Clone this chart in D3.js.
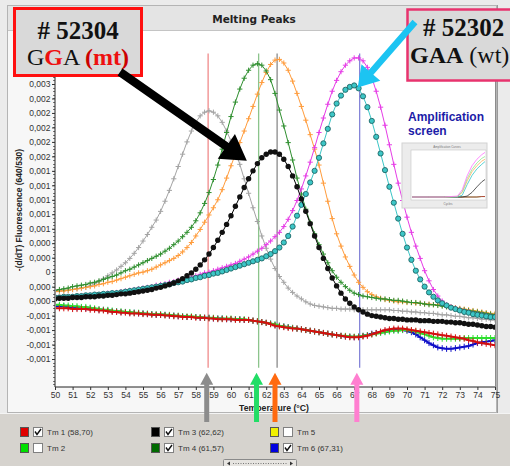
<!DOCTYPE html>
<html><head><meta charset="utf-8">
<script src="https://cdn.jsdelivr.net/npm/d3@7"></script>
<style>
html,body{margin:0;padding:0;background:#ebebeb;}
svg{display:block;}
</style></head><body>
<svg id="chart" width="510" height="466"></svg>
<script>
// ---------- DATA (values in units of 1e-4) ----------
const unit = 1e-4;
const temps = [50,50.25,50.5,50.75,51,51.25,51.5,51.75,52,52.25,52.5,52.75,53,53.25,53.5,53.75,54,54.25,54.5,54.75,55,55.25,55.5,55.75,56,56.25,56.5,56.75,57,57.25,57.5,57.75,58,58.25,58.5,58.75,59,59.25,59.5,59.75,60,60.25,60.5,60.75,61,61.25,61.5,61.75,62,62.25,62.5,62.75,63,63.25,63.5,63.75,64,64.25,64.5,64.75,65,65.25,65.5,65.75,66,66.25,66.5,66.75,67,67.25,67.5,67.75,68,68.25,68.5,68.75,69,69.25,69.5,69.75,70,70.25,70.5,70.75,71,71.25,71.5,71.75,72,72.25,72.5,72.75,73,73.25,73.5,73.75,74,74.25,74.5,74.75,75];

const grayCurve = [
-2.6,-2.6,-2.5,-2.5, -2.4,-2.3,-2.2,-2.1, -1.9,-1.6,-1.3,-0.9, -0.5,-0.1,0.3,0.8,
1.3,1.9,2.6,3.4, 4.3,5.2,6.2,7.2, 8.4,9.8,11.3,12.9, 14.6,16.3,18.0,19.5,
20.7,21.6,22.1,22.3, 22.1,21.6,20.7,19.5, 18.1,16.6,14.9,12.9, 10.9,8.9,7.0,5.0,
3.3,1.8,0.5,-0.6, -1.4,-2.2,-2.8,-3.3, -3.7,-4.1,-4.4,-4.6, -4.7,-4.8,-4.9,-5.0,
-5.0,-5.1,-5.1,-5.1, -5.2,-5.2,-5.2,-5.2, -5.2,-5.2,-5.2,-5.2, -5.2,-5.3,-5.3,-5.4,
-5.4,-5.5,-5.5,-5.6, -5.6,-5.7,-5.7,-5.8, -5.9,-5.9,-6.0,-6.1, -6.1,-6.2,-6.3,-6.3,
-6.4,-6.5,-6.5,-6.6, -6.6];

const greenCurve = [
-2.5,-2.4,-2.3,-2.2, -2.0,-1.9,-1.8,-1.7, -1.5,-1.4,-1.2,-1.0, -0.8,-0.6,-0.4,-0.1,
0.2,0.4,0.7,1.0, 1.3,1.6,1.9,2.2, 2.5,2.9,3.3,3.8, 4.3,4.9,5.5,6.2,
7.1,8.2,9.5,11.0, 12.8,14.8,17.0,19.3, 21.5,23.5,25.3,26.8, 27.9,28.6,28.8,28.6,
27.8,26.6,24.7,22.4, 20.2,17.9,15.5,13.0, 10.8,8.7,6.9,5.3, 3.8,2.5,1.3,0.2,
-0.7,-1.4,-2.0,-2.5, -2.9,-3.1,-3.3,-3.4, -3.5,-3.6,-3.7,-3.7, -3.8,-3.9,-3.9,-4.0,
-4.1,-4.2,-4.2,-4.3, -4.4,-4.5,-4.5,-4.6, -4.7,-4.8,-4.9,-5.0, -5.1,-5.2,-5.3,-5.4,
-5.5,-5.6,-5.7,-5.8, -5.9];

const orangeCurve = [
-2.7,-2.6,-2.6,-2.5, -2.4,-2.3,-2.2,-2.1, -2.0,-1.9,-1.7,-1.6, -1.4,-1.3,-1.1,-0.9,
-0.7,-0.5,-0.3,-0.1, 0.0,0.2,0.4,0.7, 1.0,1.3,1.6,1.9, 2.3,2.8,3.4,4.1,
5.0,5.9,6.9,7.9, 8.9,10.0,11.4,13.0, 14.7,16.3,17.9,19.5, 21.2,22.9,24.6,26.2,
27.6,28.7,29.3,29.4, 28.9,27.9,26.4,24.7, 22.9,21.0,19.0,17.0, 14.8,12.3,9.8,7.4,
5.3,3.6,2.1,0.8, -0.4,-1.4,-2.1,-2.7, -3.1,-3.4,-3.6,-3.8, -3.9,-4.0,-4.1,-4.1,
-4.2,-4.2,-4.3,-4.3, -4.4,-4.4,-4.5,-4.5, -4.6,-4.7,-4.8,-4.9, -5.0,-5.1,-5.2,-5.3,
-5.4,-5.5,-5.6,-5.7, -5.7];

const blackCurve = [
-3.7,-3.6,-3.6,-3.6, -3.5,-3.5,-3.5,-3.4, -3.4,-3.4,-3.3,-3.3, -3.2,-3.2,-3.1,-3.0,
-3.0,-2.9,-2.8,-2.7, -2.6,-2.5,-2.4,-2.2, -2.1,-1.9,-1.7,-1.5, -1.2,-0.9,-0.5,-0.1,
0.4,1.0,1.7,2.5, 3.4,4.4,5.5,6.6, 7.8,9.1,10.4,11.7, 12.9,14.0,15.0,15.8,
16.3,16.6,16.6,16.3, 15.6,14.6,13.3,11.8, 10.1,8.4,6.7,5.0, 3.4,1.9,0.5,-0.8,
-1.9,-2.9,-3.7,-4.3, -4.8,-5.2,-5.5,-5.8, -6.0,-6.1,-6.2,-6.3, -6.4,-6.4,-6.5,-6.5,
-6.6,-6.6,-6.6,-6.7, -6.7,-6.7,-6.8,-6.8, -6.8,-6.9,-6.9,-7.0, -7.0,-7.1,-7.2,-7.2,
-7.3,-7.4,-7.5,-7.5, -7.6];

const magentaCurve = [
-3.6,-3.6,-3.5,-3.5, -3.4,-3.4,-3.3,-3.3, -3.2,-3.1,-3.1,-3.0, -2.9,-2.9,-2.8,-2.7,
-2.6,-2.5,-2.4,-2.3, -2.2,-2.1,-2.0,-1.8, -1.7,-1.6,-1.4,-1.3, -1.1,-1.0,-0.8,-0.7,
-0.5,-0.3,-0.1,0.0, 0.2,0.4,0.6,0.8, 1.0,1.2,1.5,1.8, 2.1,2.5,2.9,3.3,
3.8,4.3,4.9,5.5, 6.3,7.3,8.5,9.9, 11.5,13.3,15.2,17.2, 19.3,21.3,23.2,25.0,
26.5,27.7,28.6,29.2, 29.6,29.6,29.2,28.3, 26.9,25.0,22.8,20.3, 17.6,14.9,12.3,9.9,
7.6,5.5,3.6,1.9, 0.2,-1.2,-2.4,-3.3, -4.0,-4.5,-4.8,-5.0, -5.2,-5.4,-5.5,-5.7,
-5.8,-5.9,-6.0,-6.1, -6.2];

const cyanCurve = [
-3.5,-3.5,-3.4,-3.4, -3.4,-3.3,-3.3,-3.2, -3.2,-3.1,-3.1,-3.0, -3.0,-2.9,-2.9,-2.8,
-2.7,-2.6,-2.5,-2.4, -2.3,-2.2,-2.1,-2.0, -1.9,-1.8,-1.7,-1.5, -1.4,-1.3,-1.1,-1.0,
-0.8,-0.7,-0.5,-0.4, -0.2,-0.1,0.1,0.3, 0.5,0.7,0.9,1.1, 1.3,1.5,1.7,1.9,
2.2,2.5,2.9,3.4, 4.1,5.0,6.3,7.8, 9.3,10.8,12.4,14.0, 15.8,17.8,19.8,21.8,
23.3,24.4,25.2,25.6, 25.8,25.4,24.3,22.8, 20.9,18.7,16.4,14.1, 11.8,9.6,7.4,5.3,
3.4,1.7,0.2,-1.0, -2.0,-2.8,-3.4,-3.9, -4.3,-4.6,-4.9,-5.1, -5.3,-5.5,-5.6,-5.8,
-5.9,-6.0,-6.1,-6.2, -6.2];

const redCurve = [
-5.0,-5.0,-5.0,-5.0, -5.1,-5.1,-5.1,-5.1, -5.2,-5.2,-5.3,-5.3, -5.4,-5.5,-5.5,-5.6,
-5.6,-5.7,-5.7,-5.7, -5.8,-5.8,-5.9,-5.9, -5.9,-6.0,-6.0,-6.1, -6.1,-6.2,-6.2,-6.2,
-6.3,-6.3,-6.3,-6.4, -6.4,-6.5,-6.5,-6.5, -6.5,-6.6,-6.6,-6.6, -6.6,-6.7,-6.8,-6.9,
-7.0,-7.2,-7.4,-7.5, -7.6,-7.7,-7.8,-7.8, -7.9,-8.0,-8.1,-8.2, -8.3,-8.4,-8.5,-8.6,
-8.7,-8.8,-8.9,-9.0, -9.0,-9.0,-8.9,-8.8, -8.6,-8.4,-8.2,-8.0, -7.9,-7.8,-7.8,-7.8,
-7.9,-8.0,-8.1,-8.2, -8.3,-8.4,-8.5,-8.6, -8.7,-8.8,-8.9,-9.0, -9.1,-9.2,-9.4,-9.5,
-9.7,-9.8,-9.9,-10.0, -10.1];

const limeCurve = [
-4.5,-4.5,-4.6,-4.6, -4.7,-4.7,-4.8,-4.8, -4.9,-5.0,-5.1,-5.2, -5.2,-5.3,-5.4,-5.4,
-5.5,-5.5,-5.6,-5.6, -5.7,-5.7,-5.8,-5.8, -5.8,-5.9,-5.9,-6.0, -6.0,-6.1,-6.1,-6.1,
-6.2,-6.2,-6.3,-6.3, -6.3,-6.4,-6.4,-6.4, -6.4,-6.5,-6.5,-6.5, -6.6,-6.7,-6.8,-6.9,
-7.0,-7.1,-7.2,-7.4, -7.5,-7.6,-7.7,-7.8, -7.9,-8.0,-8.1,-8.2, -8.3,-8.4,-8.5,-8.6,
-8.7,-8.8,-8.8,-8.9, -8.9,-8.9,-8.8,-8.7, -8.6,-8.5,-8.4,-8.3, -8.2,-8.1,-8.1,-8.0,
-8.0,-8.1,-8.2,-8.4, -8.6,-8.8,-9.0,-9.1, -9.2,-9.2,-9.2,-9.2, -9.2,-9.1,-9.1,-9.1,
-9.1,-9.1,-9.1,-9.1, -9.1];

const blueCurve = [
-4.7,-4.7,-4.7,-4.8, -4.8,-4.9,-4.9,-5.0, -5.0,-5.1,-5.2,-5.2, -5.3,-5.4,-5.4,-5.5,
-5.5,-5.6,-5.6,-5.7, -5.7,-5.8,-5.8,-5.9, -5.9,-5.9,-6.0,-6.0, -6.1,-6.1,-6.2,-6.2,
-6.2,-6.3,-6.3,-6.3, -6.4,-6.4,-6.4,-6.5, -6.5,-6.5,-6.5,-6.6, -6.6,-6.7,-6.8,-6.9,
-7.0,-7.1,-7.3,-7.4, -7.5,-7.6,-7.7,-7.8, -7.9,-8.0,-8.1,-8.2, -8.3,-8.4,-8.5,-8.6,
-8.7,-8.8,-8.9,-8.9, -9.0,-8.9,-8.8,-8.7, -8.5,-8.4,-8.3,-8.2, -8.1,-8.0,-8.0,-8.0,
-8.1,-8.3,-8.6,-9.0, -9.4,-9.8,-10.1,-10.4, -10.5,-10.6,-10.6,-10.5, -10.4,-10.3,-10.2,-10.0,
-9.8,-9.7,-9.6,-9.5, -9.4];

// Tm markers (vertical lines)
const tmValues = [58.70, 61.57, 62.62, 67.31];
const tmColors = ["#f08a8a", "#8cc48c", "#8a8a8a", "#8585d8"];

// Axis ticks
const xTicks = [50,51,52,53,54,55,56,57,58,59,60,61,62,63,64,65,66,67,68,69,70,71,72,73,74,75];
const xTickLabels = ["50","51","52","53","54","55","56","57","58","59","60","61","62","63","64","65","66","67","68","69","70","71","72","73","74","75"];
const yTicks = [-0.0012,-0.001,-0.0008,-0.0006,-0.0004,-0.0002,0,0.0002,0.0004,0.0006,0.0008,0.001,0.0012,0.0014,0.0016,0.0018,0.002,0.0022,0.0024,0.0026];
const yTickLabels = ["-0,001","-0,001","-0,001","-0,001","0,000","0,000","0","0,000","0,000","0,001","0,001","0,001","0,001","0,001","0,002","0,002","0,002","0,002","0,002","0,003"];

// Legend
const legendLabels = ["Tm 1 (58,70)","Tm 2","Tm 3 (62,62)","Tm 4 (61,57)","Tm 5","Tm 6 (67,31)"];
const legendColors = ["#e00000","#00e000","#000000","#006a00","#f0f000","#0000e0"];
const legendChecked = [true,false,true,true,false,true];

// Arrows (tips in data space)
const blackArrowTip = [60.9, 15.4];
const cyanArrowTip = [67.2, 25.5];
const bottomArrowTemps = [58.62, 61.45, 62.5, 67.15];
const bottomArrowColors = ["#8c8c8c", "#22dd66", "#ff6a10", "#ff7fd0"];

// Inset amplification thumbnail
const ampCycles = [0,10,20,28,31,34,37,40,43,45];
const ampMagenta = [0,0,0,0.02,0.16,0.46,0.68,0.82,0.92,0.97];
const ampGreen = [0,0,0,0.01,0.12,0.40,0.60,0.74,0.84,0.88];
const ampOrange = [0,0,0,0.01,0.10,0.35,0.55,0.68,0.78,0.82];
const ampCyan = [0,0,0,0,0.04,0.27,0.47,0.61,0.71,0.77];
const ampBlack = [0,0,0,0,0,0.02,0.10,0.22,0.33,0.38];
const ampFlat = [0,0,0,0,0,0,0,0,0.01,0.01];

// ---------- DRAW ----------
const svg = d3.select("#chart");
const W = 510, H = 466;
const P = {left:55, right:495, top:31, bottom:387};

svg.append("rect").attr("width",W).attr("height",H).attr("fill","#ebebeb");
svg.append("rect").attr("x",7.5).attr("y",5.5).attr("width",489).attr("height",407)
  .attr("fill","#f7f7f7").attr("stroke","#b4b4b4");
svg.append("rect").attr("x",8).attr("y",6).attr("width",488).attr("height",25).attr("fill","#e4e4e4");
svg.append("line").attr("x1",8).attr("x2",496).attr("y1",30.5).attr("y2",30.5).attr("stroke","#c4c4c4");
svg.append("text").attr("x",254).attr("y",23).attr("text-anchor","middle")
  .attr("font-family","DejaVu Sans").attr("font-weight","bold").attr("font-size",10.5)
  .attr("fill","#222").text("Melting Peaks");

svg.append("rect").attr("x",P.left).attr("y",P.top).attr("width",P.right-P.left).attr("height",P.bottom-P.top).attr("fill","#ffffff");
svg.append("line").attr("x1",P.right+0.5).attr("x2",P.right+0.5).attr("y1",P.top).attr("y2",P.bottom).attr("stroke","#8c8c8c");

svg.append("rect").attr("x",0).attr("y",413).attr("width",W).attr("height",H-413).attr("fill","#d6d3ce");
svg.append("line").attr("x1",0).attr("x2",W).attr("y1",413.5).attr("y2",413.5).attr("stroke","#f4f4f4");
svg.append("line").attr("x1",497.5).attr("x2",497.5).attr("y1",5).attr("y2",413).attr("stroke","#9a9a9a");

const x = d3.scaleLinear().domain([50,75]).range([P.left,P.right]);
const y0 = d3.scaleLinear().domain([-0.0012,0.0026]).range([359,84]);
const y = d3.scaleLinear().domain([y0.invert(P.bottom), y0.invert(P.top)]).range([P.bottom,P.top]);

const yMinor = d3.range(-31,67).map(k => k*0.00005);
svg.append("g").selectAll("line").data(yMinor).join("line")
  .attr("x1",P.left-2).attr("x2",P.left).attr("y1",d=>Math.round(y(d))+0.5).attr("y2",d=>Math.round(y(d))+0.5)
  .attr("stroke","#555").attr("stroke-width",0.8);

const yAxis = svg.append("g").attr("transform",`translate(${P.left},0)`)
  .call(d3.axisLeft(y).tickValues(yTicks).tickFormat((d,i)=>yTickLabels[i]).tickSize(3).tickSizeOuter(0).tickPadding(1.5));
const xAxis = svg.append("g").attr("transform",`translate(0,${P.bottom})`)
  .call(d3.axisBottom(x).tickValues(xTicks).tickFormat((d,i)=>xTickLabels[i]).tickSize(3).tickSizeOuter(0).tickPadding(2));
[yAxis,xAxis].forEach(g=>{
  g.select(".domain").attr("stroke","#222");
  g.selectAll(".tick line").attr("stroke","#333");
  g.selectAll(".tick text").attr("font-family","Liberation Sans").attr("font-size",8.5).attr("fill","#333");
});
yAxis.select(".domain").attr("d",`M0,${P.top}V${P.bottom}`);
xAxis.select(".domain").attr("d",`M${P.left},0H${P.right}`);

svg.append("text").attr("transform","translate(22,210) rotate(-90)").attr("text-anchor","middle")
  .attr("font-family","Liberation Sans").attr("font-weight","bold").attr("font-size",8.5).attr("fill","#222")
  .text("-(d/dT) Fluorescence (640/530)");
svg.append("text").attr("x",274).attr("y",411).attr("text-anchor","middle")
  .attr("font-family","Liberation Sans").attr("font-weight","bold").attr("font-size",8.7).attr("fill","#222")
  .text("Temperature (°C)");

svg.append("clipPath").attr("id","plotclip").append("rect")
  .attr("x",P.left+1).attr("y",P.top).attr("width",P.right-P.left-1).attr("height",P.bottom-P.top-1);
const plot = svg.append("g").attr("clip-path","url(#plotclip)");

plot.selectAll("line.tm").data(tmValues).join("line").attr("class","tm")
  .attr("x1",d=>x(d)).attr("x2",d=>x(d)).attr("y1",y(0.00302)).attr("y2",y(-0.00132))
  .attr("stroke",(d,i)=>tmColors[i]).attr("stroke-width",1.3);

const series = [
  {v:blueCurve, color:"#1010c8", mark:"plus", lw:2, ms:3},
  {v:limeCurve, color:"#2ee02e", mark:"plus", lw:2, ms:3},
  {v:redCurve, color:"#d41010", mark:"plus", lw:2, ms:3},
  {v:grayCurve, color:"#a4a4a4", mark:"plus", lw:1, ms:2.6},
  {v:orangeCurve, color:"#ff9c3c", mark:"plus", lw:1, ms:2.6},
  {v:greenCurve, color:"#2f8f2f", mark:"plus", lw:1, ms:2.6},
  {v:magentaCurve, color:"#e63ce6", mark:"plus", lw:1, ms:2.6},
  {v:cyanCurve, color:"#3cc6c6", mark:"circle", lw:1, stroke:"#1f6666"},
  {v:blackCurve, color:"#000000", mark:"dot", lw:1}
];
const line = d3.line().x((d,i)=>x(temps[i])).y(d=>y(d*unit));
series.forEach(s=>{
  const g = plot.append("g");
  g.append("path").attr("d",line(s.v)).attr("fill","none").attr("stroke",s.color).attr("stroke-width",s.lw);
  if(s.mark==="plus"){
    g.selectAll("path.m").data(s.v).join("path").attr("class","m")
      .attr("d",`M${-s.ms},0H${s.ms}M0,${-s.ms}V${s.ms}`)
      .attr("transform",(d,i)=>`translate(${x(temps[i])},${y(d*unit)})`)
      .attr("stroke",s.color).attr("stroke-width",1).attr("fill","none");
  } else if(s.mark==="circle"){
    g.selectAll("circle").data(s.v).join("circle")
      .attr("cx",(d,i)=>x(temps[i])).attr("cy",d=>y(d*unit)).attr("r",2.6)
      .attr("fill",s.color).attr("stroke",s.stroke).attr("stroke-width",0.9);
  } else {
    g.selectAll("circle").data(s.v).join("circle")
      .attr("cx",(d,i)=>x(temps[i])).attr("cy",d=>y(d*unit)).attr("r",2.7)
      .attr("fill","#111");
  }
});

svg.append("text").attr("x",408).attr("y",121).attr("font-family","Liberation Sans").attr("font-weight","bold")
  .attr("font-size",12).attr("fill","#1c1ca8").text("Amplification");
svg.append("text").attr("x",408).attr("y",135).attr("font-family","Liberation Sans").attr("font-weight","bold")
  .attr("font-size",12).attr("fill","#1c1ca8").text("screen");
const ins = svg.append("g").attr("transform","translate(402,143)");
ins.append("rect").attr("width",85).attr("height",65).attr("fill","#ececec").attr("stroke","#d2d2d2");
ins.append("text").attr("x",45).attr("y",5).attr("text-anchor","middle").attr("font-family","Liberation Sans")
  .attr("font-size",3).attr("fill","#777").text("Amplification Curves");
ins.append("rect").attr("x",9).attr("y",7).attr("width",75).attr("height",50).attr("fill","#fff").attr("stroke","#bbb").attr("stroke-width",0.5);
const ax = d3.scaleLinear().domain([0,45]).range([10,83]);
const ay = d3.scaleLinear().domain([0,1]).range([54,8]);
const aline = d3.line().x((d,i)=>ax(ampCycles[i])).y(d=>ay(d));
[[ampFlat,"#2a9a2a"],[ampFlat,"#cc3333"],[ampBlack,"#333"],[ampCyan,"#33c8c8"],[ampOrange,"#ffb060"],[ampGreen,"#90e890"],[ampMagenta,"#ff70ff"]]
  .forEach(([v,c])=>ins.append("path").attr("d",aline(v)).attr("fill","none").attr("stroke",c).attr("stroke-width",0.8));
ins.append("text").attr("x",46).attr("y",62).attr("text-anchor","middle").attr("font-family","Liberation Sans")
  .attr("font-size",3).attr("fill","#777").text("Cycles");

svg.append("rect").attr("x",14.5).attr("y",8.5).attr("width",127).attr("height",67)
  .attr("fill","#d9d9d9").attr("stroke","#ff1010").attr("stroke-width",3);
svg.append("text").attr("x",78).attr("y",39).attr("text-anchor","middle").attr("font-family","Liberation Serif")
  .attr("font-weight","bold").attr("font-size",25).attr("fill","#111").text("# 52304");
const t1 = svg.append("text").attr("x",78).attr("y",65).attr("text-anchor","middle").attr("font-family","Liberation Serif")
  .attr("font-size",24).attr("fill","#111");
t1.append("tspan").text("G");
t1.append("tspan").attr("fill","#ee1010").attr("font-weight","bold").text("G");
t1.append("tspan").text("A ");
t1.append("tspan").attr("fill","#cc0000").attr("font-weight","bold").text("(");
t1.append("tspan").attr("fill","#ee1010").attr("font-weight","bold").text("mt");
t1.append("tspan").attr("fill","#cc0000").attr("font-weight","bold").text(")");

svg.append("rect").attr("x",407.5).attr("y",9.5).attr("width",115).attr("height",71)
  .attr("fill","#d9d9d9").attr("stroke","#e8336e").attr("stroke-width",2.5);
svg.append("text").attr("x",423).attr("y",36).attr("font-family","Liberation Serif")
  .attr("font-weight","bold").attr("font-size",25).attr("fill","#111").text("# 52302");
const t2 = svg.append("text").attr("x",410).attr("y",63).attr("font-family","Liberation Serif")
  .attr("font-size",24).attr("fill","#111");
t2.append("tspan").attr("font-weight","bold").text("GAA");
t2.append("tspan").text(" (wt)");

function arrowPoly(x1,y1,x2,y2,sw,hl,hw){
  const dx=x2-x1, dy=y2-y1, L=Math.hypot(dx,dy), ux=dx/L, uy=dy/L, px=-uy, py=ux;
  const bx=x2-ux*hl, by=y2-uy*hl;
  return [[x1+px*sw/2,y1+py*sw/2],[bx+px*sw/2,by+py*sw/2],[bx+px*hw/2,by+py*hw/2],[x2,y2],
          [bx-px*hw/2,by-py*hw/2],[bx-px*sw/2,by-py*sw/2],[x1-px*sw/2,y1-py*sw/2]].map(p=>p.join(",")).join(" ");
}
svg.append("polygon").attr("points",arrowPoly(120,72,x(blackArrowTip[0]),y(blackArrowTip[1]*unit),8.5,25,30)).attr("fill","#000");
svg.append("polygon").attr("points",arrowPoly(415,22,x(cyanArrowTip[0]),y(cyanArrowTip[1]*unit),6.5,20,25)).attr("fill","#1cc4f2");
bottomArrowTemps.forEach((t,i)=>{
  svg.append("polygon").attr("points",arrowPoly(x(t),422,x(t),y(-0.00139),5,12,13)).attr("fill",bottomArrowColors[i]);
});

const legCols = [20,151,270], legRows = [432,448];
legendLabels.forEach((lab,i)=>{
  const cx = legCols[Math.floor(i/2)], cy = legRows[i%2];
  svg.append("rect").attr("x",cx+0.5).attr("y",cy-4.5).attr("width",8).attr("height",9)
    .attr("fill",legendColors[i]).attr("stroke","#555").attr("stroke-width",1);
  svg.append("rect").attr("x",cx+13.5).attr("y",cy-4.5).attr("width",9).attr("height",9)
    .attr("fill","#fff").attr("stroke","#808080").attr("stroke-width",1);
  if(legendChecked[i]){
    svg.append("path").attr("d",`M${cx+15},${cy-0.5}L${cx+17},${cy+2.5}L${cx+21},${cy-3}`)
      .attr("fill","none").attr("stroke","#111").attr("stroke-width",1.4);
  }
  svg.append("text").attr("x",cx+27).attr("y",cy+3).attr("font-family","Liberation Sans")
    .attr("font-size",8).attr("fill","#333").text(lab);
});
svg.append("rect").attr("x",223.5).attr("y",459.5).attr("width",73).attr("height",8).attr("rx",1)
  .attr("fill","#e6e4e0").attr("stroke","#8a8a8a");
svg.append("line").attr("x1",233).attr("x2",287).attr("y1",463.5).attr("y2",463.5)
  .attr("stroke","#777").attr("stroke-dasharray","1,1.5");
svg.append("path").attr("d","M227,463.5l3,-2v4z M293,463.5l-3,-2v4z").attr("fill","#333");
</script>
</body></html>
